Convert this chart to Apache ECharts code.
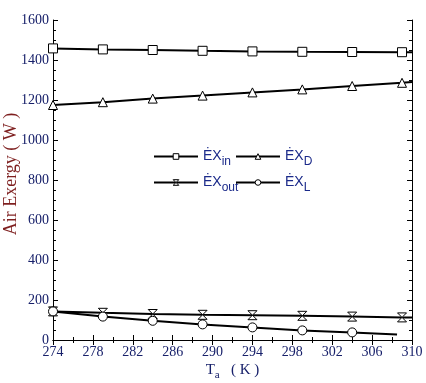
<!DOCTYPE html>
<html><head><meta charset="utf-8">
<script src="https://cdn.jsdelivr.net/npm/echarts@6/dist/echarts.min.js"></script>
<style>html,body{margin:0;padding:0;background:#fff}#c{width:426px;height:383px}</style>
</head><body><div id="c"></div>
<script>
var temps = [274, 279, 284, 289, 294, 299, 304, 309, 310];
var exIn  = [1458, 1453, 1450, 1446, 1443, 1441, 1440, 1439, 1439];
var exD   = [1175, 1189, 1207, 1222, 1238, 1253, 1270, 1286, 1290];
var exOut = [143, 136, 130, 126, 124, 121, 117, 113, 112];
var lTemps = [274, 279, 284, 289, 294, 299, 304, 308.5];
var exL   = [143, 117, 96, 78, 63, 48, 38, 27];
var xTicks = {min: 274, max: 310, interval: 4};
var yTicks = {min: 0, max: 1600, interval: 200};

var navy = '#17206a';
var serif = '"Liberation Serif","Times New Roman",serif';
var sans = '"Liberation Sans",Arial,sans-serif';

function mk(xs, ys, lastNoSym) {
  return xs.map(function (x, i) {
    var d = {value: [x, ys[i]]};
    if (lastNoSym && i === xs.length - 1) d.symbol = 'none';
    return d;
  });
}
var hourglass = 'path://M0,0H10L5,5L10,10H0L5,5Z';
function ser(name, data, symbol, size) {
  return {
    name: name, type: 'line', data: data, symbol: symbol, symbolSize: size,
    showAllSymbol: true, clip: false,
    lineStyle: {color: '#000', width: 2},
    itemStyle: {color: '#fff', borderColor: '#000', borderWidth: 1},
    emphasis: {disabled: true}, animation: false, z: 3
  };
}
var richLeg = {
  e: {fontFamily: sans, fontSize: 14, color: '#1b2a8a', lineHeight: 14, verticalAlign: 'middle'},
  s: {fontFamily: sans, fontSize: 12, color: '#1b2a8a', lineHeight: 14, padding: [11, 0, 0, 0], verticalAlign: 'middle'}
};
function legFmt(n) { return '{e|ĖX}{s|' + n + '}'; }
var legItem = {color: '#fff', borderColor: '#000', borderWidth: 1};

var chart = echarts.init(document.getElementById('c'));
chart.setOption({
  animation: false,
  grid: {left: 53, right: 14, top: 20, bottom: 43, containLabel: false, outerBoundsMode: 'none'},
  legend: [
    {data: ['in', 'out'], orient: 'vertical', left: 153, top: 145, itemWidth: 44, itemHeight: 7, itemGap: 3,
     formatter: legFmt, textStyle: {rich: richLeg}, itemStyle: legItem, selectedMode: false, padding: 0},
    {data: ['D', 'L'], orient: 'vertical', left: 235, top: 145, itemWidth: 44, itemHeight: 7, itemGap: 3,
     formatter: legFmt, textStyle: {rich: richLeg}, itemStyle: legItem, selectedMode: false, padding: 0}
  ],
  xAxis: [
    {type: 'value', min: xTicks.min, max: xTicks.max, interval: xTicks.interval,
     axisLine: {lineStyle: {color: '#000', width: 1}},
     axisTick: {inside: true, length: 5, lineStyle: {color: '#000'}},
     minorTick: {show: true, splitNumber: 2, length: 3, lineStyle: {color: '#000'}},
     splitLine: {show: false},
     axisLabel: {color: navy, fontFamily: serif, fontSize: 14, margin: 5},
     name: '{t|T}{a|a}{k|   ( K )}', nameLocation: 'middle', nameGap: 23, nameMoveOverlap: false,
     nameTextStyle: {rich: {
       t: {fontFamily: serif, fontSize: 15, color: navy, lineHeight: 15, verticalAlign: 'middle'},
       a: {fontFamily: serif, fontSize: 11, color: navy, lineHeight: 11, padding: [10, 0, 0, 0], verticalAlign: 'middle'},
       k: {fontFamily: serif, fontSize: 15, color: navy, lineHeight: 15, verticalAlign: 'middle'}
     }}},
    {type: 'value', position: 'top', min: xTicks.min, max: xTicks.max, interval: xTicks.interval,
     axisLine: {lineStyle: {color: '#000'}},
     axisTick: {inside: true, length: 5, lineStyle: {color: '#000'}},
     minorTick: {show: true, splitNumber: 2, length: 3, lineStyle: {color: '#000'}},
     axisLabel: {show: false}, splitLine: {show: false}}
  ],
  yAxis: [
    {type: 'value', min: yTicks.min, max: yTicks.max, interval: yTicks.interval,
     axisLine: {show: true, lineStyle: {color: '#000'}},
     axisTick: {show: true, inside: true, length: 5, lineStyle: {color: '#000'}},
     minorTick: {show: true, splitNumber: 4, length: 3, lineStyle: {color: '#000'}},
     splitLine: {show: false},
     axisLabel: {color: navy, fontFamily: serif, fontSize: 14, margin: 4, formatter: function (v) { return String(v); }},
     name: 'Air Exergy ( W )', nameLocation: 'middle', nameGap: 33, nameRotate: 90, nameMoveOverlap: false,
     nameTextStyle: {fontFamily: serif, fontSize: 18, color: '#7e1f1f', padding: [0, 0, 0, 12]}},
    {type: 'value', position: 'right', min: yTicks.min, max: yTicks.max, interval: yTicks.interval,
     axisLine: {show: true, lineStyle: {color: '#000'}},
     axisTick: {show: true, inside: true, length: 5, lineStyle: {color: '#000'}},
     minorTick: {show: true, splitNumber: 4, length: 3, lineStyle: {color: '#000'}},
     axisLabel: {show: false}, splitLine: {show: false}}
  ],
  series: [
    ser('in', mk(temps, exIn, true), 'rect', 9),
    ser('D', mk(temps, exD, true), 'triangle', 9),
    ser('out', mk(temps, exOut, true), hourglass, 9),
    ser('L', mk(lTemps, exL, true), 'circle', 9)
  ]
});
</script></body></html>
